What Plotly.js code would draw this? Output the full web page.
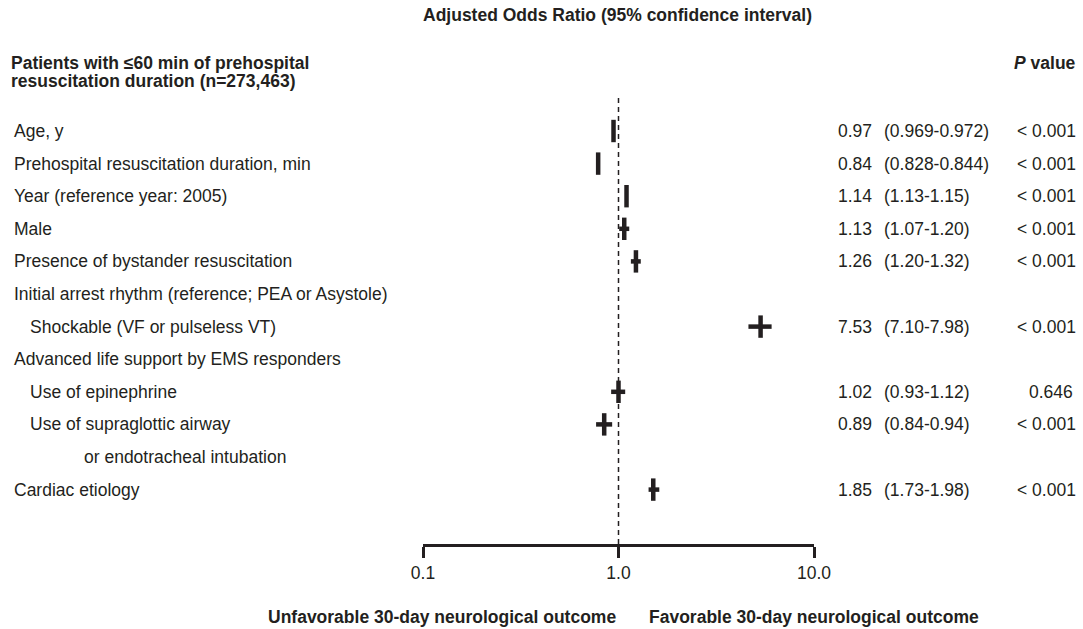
<!DOCTYPE html>
<html>
<head>
<meta charset="utf-8">
<script src="https://cdn.plot.ly/plotly-3.0.1.min.js"></script>
<style>html,body{margin:0;padding:0;background:#fff;}#chart{width:1083px;height:629px;}</style>
</head>
<body>
<div id="chart"></div>
<script>
// ---- data ----
const rowLabels = [
  "Age, y",
  "Prehospital resuscitation duration, min",
  "Year (reference year: 2005)",
  "Male",
  "Presence of bystander resuscitation",
  "Initial arrest rhythm (reference; PEA or Asystole)",
  "Shockable (VF or pulseless VT)",
  "Advanced life support by EMS responders",
  "Use of epinephrine",
  "Use of supraglottic airway",
  "or endotracheal intubation",
  "Cardiac etiology"
];
const rowIndent = [0, 0, 0, 0, 0, 0, 1, 0, 1, 1, 2, 0];
const orText = ["0.97", "0.84", "1.14", "1.13", "1.26", "", "7.53", "", "1.02", "0.89", "", "1.85"];
const ciText = ["(0.969-0.972)", "(0.828-0.844)", "(1.13-1.15)", "(1.07-1.20)", "(1.20-1.32)", "",
                "(7.10-7.98)", "", "(0.93-1.12)", "(0.84-0.94)", "", "(1.73-1.98)"];
const pText = ["< 0.001", "< 0.001", "< 0.001", "< 0.001", "< 0.001", "", "< 0.001", "", "0.646", "< 0.001", "", "< 0.001"];
// marker positions as drawn in the picture (point estimate, whisker ends)
const plotEst  = [0.943, 0.787, 1.099, 1.070, 1.228, null, 5.33, null, 1.000, 0.845, null, 1.506];
const plotLow  = [0.943, 0.787, 1.099, 1.008, 1.157, null, 4.62, null, 0.917, 0.768, null, 1.425];
const plotHigh = [0.943, 0.787, 1.099, 1.135, 1.300, null, 6.07, null, 1.082, 0.928, null, 1.617];
const tickVals = [0.1, 1, 10];
const tickText = ["0.1", "1.0", "10.0"];
const headerText = "Adjusted Odds Ratio (95% confidence interval)";
const groupHeader = ["Patients with ≤60 min of prehospital", "resuscitation duration (n=273,463)"];
const pHeader = "<i>P</i> value";
const leftOutcome = "Unfavorable 30-day neurological outcome";
const rightOutcome = "Favorable 30-day neurological outcome";

// ---- layout helpers (pixel -> paper / row units) ----
const W = 1083, H = 629;
const ML = 423, MR = 269, MT = 20, MB = 85;
const PW = W - ML - MR, PH = H - MT - MB;
const ROW0 = 131, ROWH = 32.6;
const px2x = px => (px - ML) / PW;
const px2py = py => (H - MB - py) / PH;
const px2row = py => (py - ROW0) / ROWH;
const yBottom = px2row(H - MB), yTop = px2row(MT);

const INK = "#231f20";
const FONT = "Liberation Sans, Arial, Helvetica, sans-serif";
const FS = 17.5;

const rows = rowLabels.map((_, i) => i);
const idx = rows.filter(i => plotEst[i] !== null);

const traces = [
  {
    type: "scatter", mode: "lines",
    x: [1, 1], y: [px2row(98), yBottom],
    line: {color: INK, width: 1.5, dash: "5px,4px"},
    hoverinfo: "skip", showlegend: false
  },
  {
    type: "scatter", mode: "markers",
    x: idx.map(i => plotEst[i]),
    y: idx.map(i => i),
    marker: {symbol: "line-ns", size: 16, color: INK, line: {color: INK, width: 4.5}},
    error_x: {
      type: "data", symmetric: false,
      array: idx.map(i => plotHigh[i] - plotEst[i]),
      arrayminus: idx.map(i => plotEst[i] - plotLow[i]),
      color: INK, thickness: 4.5, width: 0
    },
    showlegend: false, hoverinfo: "x"
  }
];

const esc = s => s.replace(/< /g, "&lt; ");
const base = (text, xpx, anchor, bold) => ({
  text: bold ? "<b>" + text + "</b>" : esc(text),
  xref: "paper", x: px2x(xpx),
  xanchor: anchor, yanchor: "middle",
  showarrow: false, borderpad: 0,
  font: {family: FONT, size: FS, color: INK}
});
const rowTxt = (text, xpx, row, anchor) =>
  Object.assign(base(text, xpx, anchor, false), {yref: "y", y: row});
const pxTxt = (text, xpx, ypx, anchor) =>
  Object.assign(base(text, xpx, anchor, true), {yref: "paper", y: px2py(ypx)});

const indentPx = [13.3, 29.3, 82.7];
const ann = [];
rows.forEach(i => {
  ann.push(rowTxt(rowLabels[i], indentPx[rowIndent[i]], i, "left"));
  if (orText[i]) {
    ann.push(rowTxt(orText[i], 836.7, i, "left"));
    ann.push(rowTxt(ciText[i], 883.3, i, "left"));
    ann.push(rowTxt(pText[i], pText[i].startsWith("<") ? 1077 : 1074, i, "right"));
  }
});
ann.push(pxTxt(headerText, 422, 15, "left"));
ann.push(pxTxt(groupHeader[0], 10, 63, "left"));
ann.push(pxTxt(groupHeader[1], 10, 81, "left"));
ann.push(pxTxt(pHeader, 1077, 63, "right"));
ann.push(pxTxt(leftOutcome, 617, 616.7, "right"));
ann.push(pxTxt(rightOutcome, 648, 616.7, "left"));

const layout = {
  width: W, height: H,
  margin: {l: ML, r: MR, t: MT, b: MB, pad: 0},
  paper_bgcolor: "#fff", plot_bgcolor: "#fff",
  showlegend: false,
  font: {family: FONT, size: FS, color: INK},
  xaxis: {
    type: "log", range: [-1, 1], fixedrange: true,
    tickvals: tickVals, ticktext: tickText,
    ticks: "outside", ticklen: 11, tickwidth: 3, tickcolor: INK,
    showline: true, linewidth: 3, linecolor: INK,
    showgrid: false, zeroline: false,
    tickfont: {family: FONT, size: FS, color: INK}
  },
  yaxis: {
    range: [yBottom, yTop], visible: false, fixedrange: true,
    showgrid: false, zeroline: false
  },
  annotations: ann
};

Plotly.newPlot("chart", traces, layout, {displayModeBar: false, staticPlot: true});
</script>
</body>
</html>
